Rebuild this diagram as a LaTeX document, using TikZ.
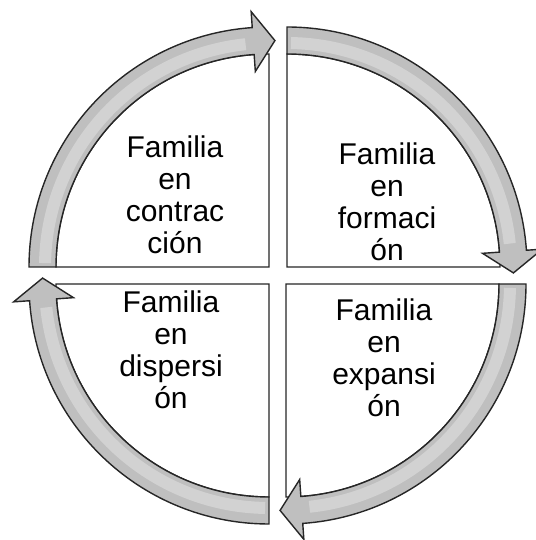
\documentclass[tikz,border=0pt]{standalone}
\usepackage{fontspec}
\setmainfont{Liberation Sans}

\begin{document}
\begin{tikzpicture}[
  x=1pt, y=1pt,
  font=\fontsize{30}{32}\selectfont,
  sector/.style={draw=black!85, line width=1.4pt, fill=white},
  band/.style={draw=black!85, line width=1.4pt, fill=black!25, line join=miter},
  glow/.style={line width=12pt, white, opacity=0.3},
  famtext/.style={align=center, inner sep=0pt}
]
\useasboundingbox (0,0) rectangle (535,540);

% four quarters, each one turned a quarter on from the last
\foreach \cx/\cy/\rot in {269/273/0, 287/273/-90, 286/256/-180, 269/256/-270}{
  \begin{scope}[shift={(\cx,\cy)}, rotate=\rot]
    \draw[sector] (0,0) -- (180:213) arc[start angle=180, end angle=90, radius=213] -- cycle;
    \fill[black!25] (180:213) -- (180:240) arc[start angle=180, end angle=94, radius=240]
      -- (94:256) -- (88.5:226.5) -- (94:196) -- (94:213)
      arc[start angle=94, end angle=180, radius=213] -- cycle;
    \draw[glow] (179:224) arc[start angle=179, end angle=96, radius=224];
    \draw[band, fill=none] (180:213) -- (180:240) arc[start angle=180, end angle=94, radius=240]
      -- (94:256) -- (88.5:226.5) -- (94:196) -- (94:213)
      arc[start angle=94, end angle=180, radius=213] -- cycle;
  \end{scope}
}

\node[famtext] (contr) at (175,345) {Familia\\en\\contrac\\ción};
\node[famtext] (form) at (387,338) {Familia\\en\\formaci\\ón};
\node[famtext] (disp) at (171,190) {Familia\\en\\dispersi\\ón};
\node[famtext] (expan) at (384,182) {Familia\\en\\expansi\\ón};

\end{tikzpicture}
\end{document}
